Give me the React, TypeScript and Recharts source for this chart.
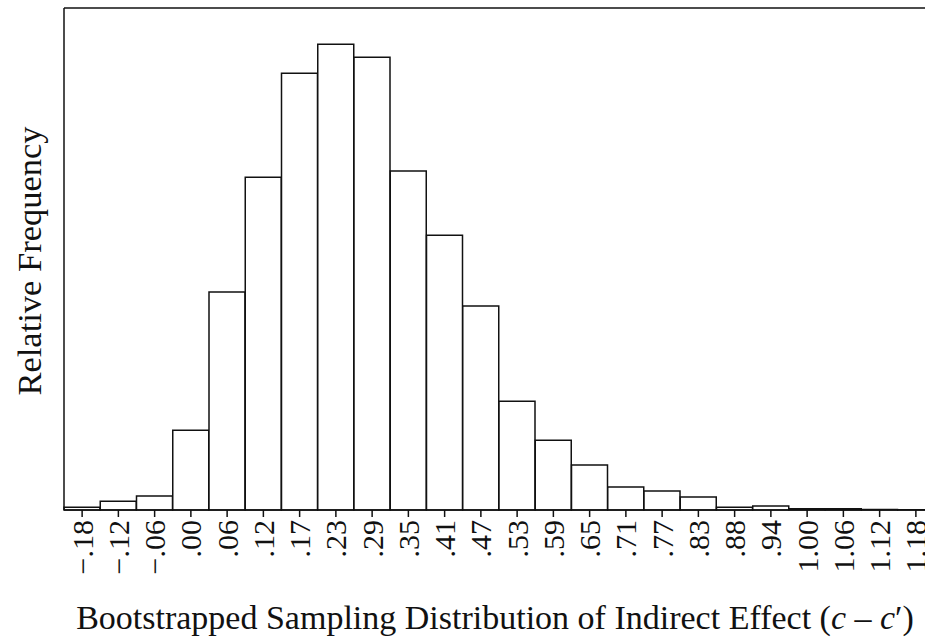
import React from 'react';
import { BarChart, Bar, XAxis, YAxis } from 'recharts';

const categories = ['−.18', '−.12', '−.06', '.00', '.06', '.12', '.17', '.23', '.29', '.35', '.41', '.47', '.53', '.59', '.65', '.71', '.77', '.83', '.88', '.94', '1.00', '1.06', '1.12', '1.18'];
const relativeFrequency = [0.09, 0.28, 0.45, 2.56, 6.99, 10.67, 14.01, 14.94, 14.52, 10.87, 8.81, 6.54, 3.49, 2.24, 1.44, 0.74, 0.61, 0.42, 0.09, 0.13, 0.04, 0.04, 0.02, 0.01];
const yMax = 16.1;

const data = categories.map((c, i) => ({ bin: c, freq: relativeFrequency[i] }));

const FONT = '"Liberation Serif", "Times New Roman", serif';

const RotTick = (props: any) => {
  const { x, y, payload } = props;
  const ty = y + 1;
  return (
    <text
      x={x}
      y={ty}
      transform={`rotate(-90, ${x}, ${ty})`}
      textAnchor="end"
      dominantBaseline="central"
      fontFamily={FONT}
      fontSize={30}
      fill="#111"
    >
      {payload.value}
    </text>
  );
};

export default function App() {
  return (
    <div style={{ position: 'absolute', left: 0, top: 0, width: 925, height: 638, overflow: 'hidden', background: '#fff' }}>
      <BarChart
        width={940}
        height={638}
        data={data}
        margin={{ top: 7, right: 6, bottom: 0, left: 63 }}
        barCategoryGap={0}
        barGap={0}
      >
        <XAxis
          dataKey="bin"
          interval={0}
          height={128}
          tick={<RotTick />}
          tickLine={{ stroke: '#111', strokeWidth: 1.5 }}
          tickSize={7}
          axisLine={{ stroke: '#111', strokeWidth: 1.5 }}
          label={{
            content: () => (
              <text x={495} y={629} textAnchor="middle" fontFamily={FONT} fontSize={34} fill="#111">
                Bootstrapped Sampling Distribution of Indirect Effect (
                <tspan fontStyle="italic">c</tspan>
                {' – '}
                <tspan fontStyle="italic">c</tspan>
                ′)
              </text>
            ),
          }}
        />
        <XAxis
          xAxisId="top"
          dataKey="bin"
          orientation="top"
          height={1}
          tick={false}
          tickLine={false}
          axisLine={{ stroke: '#111', strokeWidth: 1.5 }}
        />
        <YAxis
          width={1}
          domain={[0, yMax]}
          tick={false}
          tickLine={false}
          axisLine={{ stroke: '#111', strokeWidth: 1.5 }}
          label={{
            content: () => (
              <text
                x={29}
                y={261}
                transform={`rotate(-90, 29, 261)`}
                textAnchor="middle"
                dominantBaseline="central"
                fontFamily={FONT}
                fontSize={34.5}
                fill="#111"
              >
                Relative Frequency
              </text>
            ),
          }}
        />
        <Bar dataKey="freq" fill="#fff" stroke="#111" strokeWidth={1.5} isAnimationActive={false} />
      </BarChart>
    </div>
  );
}
